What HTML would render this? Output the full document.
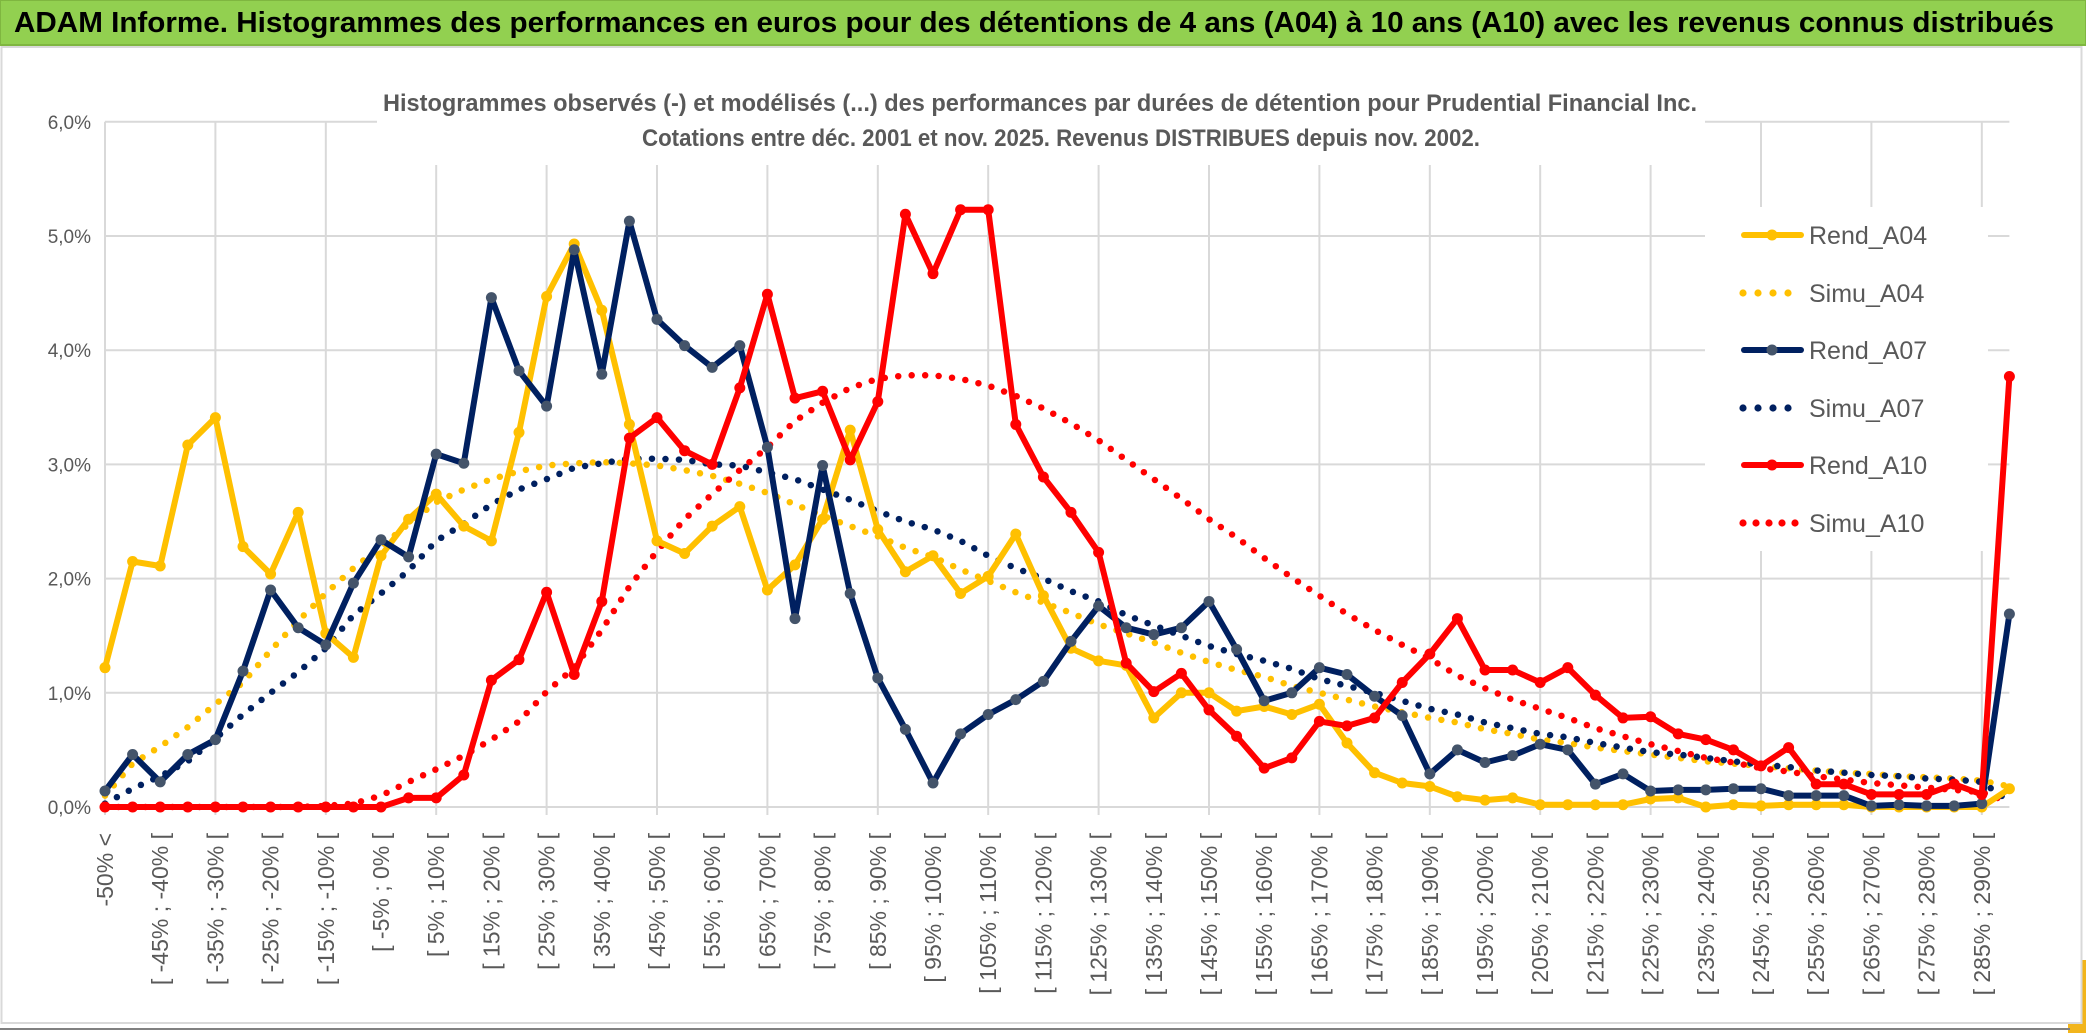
<!DOCTYPE html>
<html><head><meta charset="utf-8">
<style>
html,body{margin:0;padding:0;background:#fff;}
body{width:2086px;height:1033px;overflow:hidden;position:relative;font-family:"Liberation Sans",sans-serif;}
svg{position:absolute;left:0;top:0;}
</style></head>
<body>
<svg id="chart" width="2086" height="1033" viewBox="0 0 2086 1033" xmlns="http://www.w3.org/2000/svg">
  <rect x="0" y="0" width="2086" height="1033" fill="#ffffff"/>
  <rect x="2068" y="960" width="18" height="73" fill="#F2B51C"/>
  <rect x="1.5" y="47" width="2080" height="976" fill="#ffffff" stroke="#d9d9d9" stroke-width="2"/>
  <line x1="0" y1="1029" x2="2070" y2="1029" stroke="#808080" stroke-width="2"/>
  <rect x="0" y="0" width="2086" height="45" fill="#92D050" stroke="#7fb640" stroke-width="2"/>
  <text x="14" y="32" font-size="29" font-weight="bold" fill="#000" textLength="2040" lengthAdjust="spacingAndGlyphs">ADAM Informe. Histogrammes des performances en euros pour des détentions de 4 ans (A04) à 10 ans (A10) avec les revenus connus distribués</text>
  <g id="grid"></g>
  <rect x="377" y="58" width="1328" height="107" fill="#fff"/>
  <text x="1040" y="111" font-size="24" font-weight="bold" fill="#595959" text-anchor="middle" textLength="1314" lengthAdjust="spacingAndGlyphs">Histogrammes observés (-) et modélisés (...) des performances par durées de détention pour Prudential Financial Inc.</text>
  <text x="1061" y="146" font-size="24" font-weight="bold" fill="#595959" text-anchor="middle" textLength="838" lengthAdjust="spacingAndGlyphs">Cotations entre déc. 2001 et nov. 2025. Revenus DISTRIBUES depuis nov. 2002.</text>
  <g id="yaxis"></g>
  <g id="xaxis"></g>
  <g id="series"></g>
  <rect x="1705" y="207" width="283" height="344" fill="#fff"/>
  <g id="legend"></g>
</svg>
<script>
var categoryStarts = [];
var categories = ["-50% <"];
for (var k = 1; k < 70; k++) { var a = -50 + 5 * (k - 1); categories.push("[ " + a + "% ; " + (a + 5) + "% ["); }
var yTicks = [0, 1, 2, 3, 4, 5, 6];
var yTickLabels = ["0,0%", "1,0%", "2,0%", "3,0%", "4,0%", "5,0%", "6,0%"];
var seriesNames = ["Rend_A04", "Simu_A04", "Rend_A07", "Simu_A07", "Rend_A10", "Simu_A10"];
var rendA04 = [1.22,2.15,2.11,3.17,3.41,2.28,2.04,2.58,1.52,1.31,2.2,2.52,2.74,2.46,2.33,3.28,4.47,4.93,4.35,3.35,2.33,2.22,2.46,2.63,1.9,2.12,2.52,3.30,2.43,2.06,2.2,1.87,2.02,2.39,1.85,1.39,1.28,1.24,0.78,1.0,1.0,0.84,0.88,0.81,0.9,0.56,0.3,0.21,0.18,0.09,0.06,0.08,0.02,0.02,0.02,0.02,0.07,0.08,0.0,0.02,0.01,0.02,0.02,0.02,0,0,0,0,0,0.16];
var simuA04 = [0.1,0.38,0.53,0.70,0.9,1.09,1.37,1.63,1.87,2.09,2.28,2.48,2.67,2.78,2.87,2.94,2.99,3.01,3.02,3.01,2.99,2.95,2.90,2.83,2.75,2.65,2.55,2.46,2.37,2.27,2.19,2.08,1.98,1.88,1.79,1.70,1.60,1.52,1.44,1.35,1.27,1.2,1.14,1.06,1.0,0.94,0.88,0.83,0.78,0.74,0.68,0.64,0.59,0.56,0.52,0.49,0.46,0.43,0.40,0.38,0.36,0.34,0.32,0.30,0.29,0.27,0.26,0.25,0.23,0.18];
var rendA07 = [0.14,0.46,0.22,0.46,0.59,1.19,1.9,1.57,1.42,1.96,2.34,2.19,3.09,3.01,4.46,3.82,3.51,4.88,3.79,5.13,4.27,4.04,3.85,4.04,3.15,1.65,2.99,1.87,1.13,0.68,0.21,0.64,0.81,0.94,1.10,1.45,1.76,1.57,1.51,1.57,1.8,1.38,0.93,1.0,1.22,1.16,0.97,0.80,0.29,0.5,0.39,0.45,0.55,0.5,0.2,0.29,0.14,0.15,0.15,0.16,0.16,0.1,0.1,0.1,0.01,0.02,0.01,0.01,0.03,1.69];
var simuA07 = [0.03,0.16,0.27,0.4,0.6,0.81,1.0,1.18,1.39,1.68,1.87,2.07,2.33,2.48,2.65,2.78,2.87,2.97,3.01,3.05,3.05,3.04,3.0,2.99,2.93,2.87,2.78,2.69,2.59,2.5,2.43,2.33,2.2,2.09,2.0,1.89,1.8,1.68,1.59,1.5,1.41,1.34,1.28,1.21,1.12,1.06,1.0,0.93,0.86,0.81,0.74,0.69,0.64,0.61,0.56,0.52,0.48,0.46,0.43,0.40,0.37,0.35,0.32,0.30,0.28,0.27,0.25,0.24,0.22,0.05];
var rendA10 = [0,0,0,0,0,0,0,0,0,0,0,0.08,0.08,0.28,1.11,1.29,1.88,1.16,1.80,3.23,3.41,3.12,3.0,3.67,4.49,3.58,3.64,3.04,3.55,5.19,4.67,5.23,5.23,3.35,2.89,2.58,2.23,1.26,1.01,1.17,0.85,0.62,0.34,0.43,0.75,0.71,0.78,1.09,1.34,1.65,1.2,1.2,1.09,1.22,0.98,0.78,0.79,0.64,0.59,0.5,0.36,0.52,0.2,0.2,0.11,0.11,0.11,0.2,0.11,3.77];
var simuA10 = [0,0,0,0,0,0,0,0,0.01,0.03,0.1,0.22,0.33,0.45,0.59,0.75,1.01,1.22,1.55,1.93,2.24,2.52,2.74,2.95,3.15,3.38,3.54,3.67,3.75,3.78,3.78,3.75,3.69,3.6,3.49,3.36,3.21,3.04,2.87,2.70,2.52,2.36,2.18,2.01,1.85,1.69,1.55,1.42,1.30,1.15,1.04,0.94,0.86,0.78,0.69,0.62,0.55,0.49,0.43,0.39,0.34,0.31,0.27,0.24,0.21,0.19,0.17,0.15,0.13,0.04];

var NS = "http://www.w3.org/2000/svg";
var X0 = 105, DX = 27.6, Y0 = 807, DY = 114.2;
function xScale(i) { return X0 + DX * i; }
function yScale(v) { return Y0 - DY * v; }
function mk(tag, attrs, parent) {
  var e = document.createElementNS(NS, tag);
  for (var k in attrs) e.setAttribute(k, attrs[k]);
  parent.appendChild(e);
  return e;
}
var grid = document.getElementById("grid");
var yaxis = document.getElementById("yaxis");
var xaxis = document.getElementById("xaxis");
var seriesG = document.getElementById("series");
var legend = document.getElementById("legend");
var xRight = xScale(categories.length - 1);

yTicks.forEach(function (t, j) {
  var gl = mk("line", {x1: X0, x2: xRight, y1: yScale(t), y2: yScale(t), stroke: "#d9d9d9", "stroke-width": 2}, grid);
  
  
  var tl = mk("text", {x: 91, y: yScale(t) + 7, "font-size": 19, fill: "#595959", "text-anchor": "end"}, yaxis);
  tl.textContent = yTickLabels[j];
  
  
});
for (var i = 0; i < categories.length; i += 4) {
  var vl = mk("line", {x1: xScale(i), x2: xScale(i), y1: yScale(6), y2: Y0 + 8, stroke: "#d9d9d9", "stroke-width": 2}, grid);
  
  
}
for (var i = 0; i < categories.length; i += 2) {
  var x = xScale(i), y = 833;
  var lb = mk("text", {x: x, y: y, "font-size": 23, fill: "#595959", "text-anchor": "end", "dominant-baseline": "central", transform: "rotate(-90 " + x + " " + y + ")"}, xaxis);
  lb.textContent = categories[i];
  
  
}

var seriesData = [rendA04, simuA04, rendA07, simuA07, rendA10, simuA10];
var colors = ["#FFC000", "#FFC000", "#002060", "#002060", "#FF0000", "#FF0000"];
var markerFill = ["#FFC000", null, "#44546A", null, "#FF0000", null];
var drawOrder = [1, 3, 5, 0, 2, 4];
drawOrder.forEach(function (s) {
  var vals = seriesData[s];
  var d = vals.map(function (v, i) { return (i ? "L" : "M") + xScale(i).toFixed(1) + " " + yScale(v).toFixed(1); }).join(" ");
  var g = mk("g", {}, seriesG);
  
  
  var solid = markerFill[s] !== null;
  var p = mk("path", {d: d, fill: "none", stroke: colors[s], "stroke-width": solid ? 6 : 6.5, "stroke-linejoin": "round", "stroke-linecap": "round"}, g);
  if (!solid) { p.setAttribute("stroke-dasharray", "0 13.5"); }
  
  
  if (solid) {
    vals.forEach(function (v, i) {
      var c = mk("circle", {cx: xScale(i), cy: yScale(v), r: 5.5, fill: markerFill[s]}, g);
      
      
    });
  }
});

var legendY = [235, 293, 350, 408, 465, 523];
seriesNames.forEach(function (n, s) {
  var y = legendY[s];
  var g = mk("g", {}, legend);
  
  
  var solid = markerFill[s] !== null;
  if (solid) {
    mk("line", {x1: 1744, x2: 1801, y1: y, y2: y, stroke: colors[s], "stroke-width": 6, "stroke-linecap": "round"}, g);
    mk("circle", {cx: 1772, cy: y, r: 5.5, fill: markerFill[s]}, g);
  } else {
    var n5 = s === 5 ? 5 : 4, sp = s === 5 ? 13 : 15;
    for (var k = 0; k < n5; k++) mk("circle", {cx: 1743 + k * sp, cy: y, r: 3.6, fill: colors[s]}, g);
  }
  var t = mk("text", {x: 1809, y: y + 9, "font-size": 25, fill: "#595959"}, g);
  t.textContent = n;
  
  
});
</script>
</body></html>
